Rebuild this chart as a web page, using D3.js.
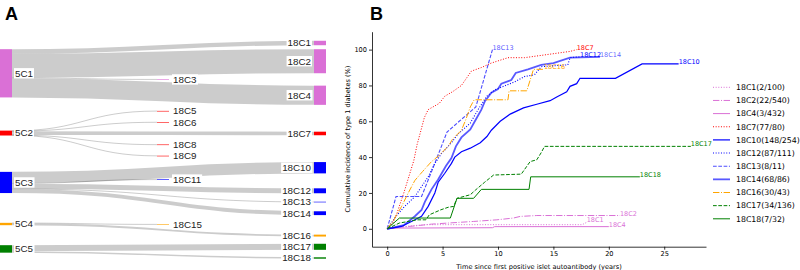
<!DOCTYPE html>
<html>
<head>
<meta charset="utf-8">
<script src="https://cdn.jsdelivr.net/npm/d3@7"></script>
<style>
  body { margin: 0; background: #fff; }
  svg { display: block; }
</style>
</head>
<body>
<svg id="chart" width="800" height="270"></svg>
<script>
// ---------- panel A data (clusters at 5 and 18 months) ----------
const sourceNames = ["5C1", "5C2", "5C3", "5C4", "5C5"];
const targetNames = ["18C1","18C2","18C3","18C4","18C5","18C6","18C7","18C8","18C9",
  "18C10","18C11","18C12","18C13","18C14","18C15","18C16","18C17","18C18"];
const targetSource = ["5C1","5C1","5C1","5C1","5C2","5C2","5C2","5C2","5C2",
  "5C3","5C3","5C3","5C3","5C3","5C4","5C4","5C5","5C5"];
const targetSize = [100, 540, 12, 432, 8, 8, 80, 8, 6, 254, 14, 111, 11, 86, 10, 43, 136, 32];
const middleTargets = ["18C3","18C5","18C6","18C8","18C9","18C11","18C15"];

// ---------- panel B data (cumulative incidence, [years, %]) ----------
const curveNames = ["18C1","18C2","18C4","18C7","18C10","18C12","18C13","18C14","18C16","18C17","18C18"];
const curveCounts = ["2/100","22/540","3/432","77/80","148/254","87/111","8/11","68/86","30/43","34/136","7/32"];
const curve18C1 = [[0,0],[1,1],[3.5,2.3],[17.6,2.3],[18,3.6]];
const curve18C2 = [[0,0],[1,0.8],[2.5,1.6],[4,2.6],[5.5,3.2],[7.8,4.1],[9.9,5],[11.4,6],[12,6.9],[13.5,7.4],[21,7.4]];
const curve18C4 = [[0,0],[1,0.4],[9.5,0.6],[9.7,1.2],[20,1.2]];
const curve18C7 = [[0,0],[0.5,3],[0.9,9],[1.5,20],[2.0,30],[2.4,38],[2.7,47],[3.05,55],[3.35,62],[3.7,66.5],
  [4.7,70],[5.2,74],[5.9,76.5],[6.7,80],[7.6,88],[8.5,90],[9.4,92.5],[10.9,95.5],[12.4,95.5],[16.5,99],[17.1,100]];
const curve18C10 = [[0,0],[1.3,1.3],[2.5,5],[3.1,7],[3.7,12.5],[4.3,20],[4.6,26],[5.2,31],[5.8,36.5],[6.1,40],
  [6.7,43],[7.5,45],[8.4,48],[9.0,51.5],[9.4,55],[10.2,60],[11.1,64],[12.3,67.5],[13.5,69.5],[14.7,71.5],
  [15.3,73.5],[16.2,76.5],[16.5,79.5],[17.1,81],[17.4,84],[20.6,84],[23,92],[26.3,92]];
const curve18C12 = [[0,0],[0.8,7],[1.5,12],[2.5,18],[3.1,23.5],[3.7,29],[4.3,36.5],[4.9,42],[5.8,48],[6.4,53],
  [7.5,59],[8.2,66.5],[9.0,74],[9.7,77.5],[10.5,79.5],[11.5,82],[12.4,85],[13.3,86],[13.9,90.5],[16.3,91.5],
  [16.5,95.5],[17.4,96]];
const curve18C13 = [[0,0],[0.4,9],[0.8,18],[3.1,18],[4.2,35],[5.4,54],[6.5,60],[8.0,68],[9.5,100]];
const curve18C14 = [[0,0],[1.5,2],[2.5,7],[3.1,10.5],[3.4,15],[4,22],[4.6,27.5],[5.3,35],[5.8,39.5],[6.2,46],
  [6.7,51],[7.5,55.5],[8,61],[8.5,66.5],[8.8,71],[9.4,76],[10,78],[10.3,81],[11.2,83],[11.6,87],[12.7,89],
  [13.9,91.5],[15,92.5],[16.5,95.5],[19.2,96]];
const curve18C16 = [[0,0],[0.6,5],[1.3,12.5],[1.9,20],[2.5,27],[3.2,32],[4,37.5],[4.7,41],[5.5,46],[5.9,50],
  [6.7,55],[7.1,61],[7.5,68],[7.85,72],[10.9,72],[11.0,77],[12.6,77],[13.2,89],[14.15,89]];
const curve18C17 = [[0,0],[1.1,3.2],[2.7,5],[3.5,5],[3.8,7.8],[4.8,10.5],[5.5,12],[6.0,12.5],[6.3,17],[7.5,19],
  [8.0,21.8],[8.8,26],[9.6,30],[12.1,30.5],[12.9,37.5],[13.5,38.5],[13.9,42.5],[14.2,46],[27.4,46]];
const curve18C18 = [[0,0],[1.1,6],[5.7,6],[6.3,17],[7.8,17],[8.5,22],[12.8,22],[12.95,29],[22.8,29]];
const curvePoints = [curve18C1, curve18C2, curve18C4, curve18C7, curve18C10, curve18C12,
  curve18C13, curve18C14, curve18C16, curve18C17, curve18C18];
const xTicks = [0, 5, 10, 15, 20, 25];
const yTicks = [0, 20, 40, 60, 80, 100];

// ---------- styles ----------
const clusterColor = {"5C1": "orchid", "5C2": "red", "5C3": "blue", "5C4": "orange", "5C5": "green"};
const DOT = "1,1.65", DASH = "3.7,1.6", DASHDOT = "6.4,1.6,1,1.6";
const curveStyle = {
  "18C1": {dash: DOT, w: 1, op: 1},
  "18C2": {dash: DASHDOT, w: 1, op: 1},
  "18C4": {dash: null, w: 1, op: 1},
  "18C7": {dash: DOT, w: 1, op: 1},
  "18C10": {dash: null, w: 1.2, op: 1},
  "18C12": {dash: DOT, w: 1.1, op: 1},
  "18C13": {dash: DASH, w: 1.1, op: 0.7},
  "18C14": {dash: null, w: 1.8, op: 0.65},
  "18C16": {dash: DASHDOT, w: 1, op: 1},
  "18C17": {dash: DASH, w: 1, op: 1},
  "18C18": {dash: null, w: 1, op: 1}
};

const svg = d3.select("#chart");

// ================= panel A : sankey =================
const panelA = svg.append("g");
const hScale = d3.scaleLinear().domain([0, 1000]).range([0, 44.5]);
const xCol = d3.scaleLinear().domain([0, 2]).range([0, 314]);
const nodeW = 12;
const sankeyTop = 38, sankeyBottom = 263, slotMin = 10, sourcePad = 20;

const targets = targetNames.map((name, i) => ({
  name, size: targetSize[i], parent: targetSource[i],
  col: middleTargets.includes(name) ? 1 : 2
}));
const sources = sourceNames.map(name => ({
  name, col: 0, parent: name,
  size: d3.sum(targets.filter(t => t.parent === name), t => t.size)
}));

// stack all 18-month clusters in order, each taking at least a label's height
const slots = targets.map(t => Math.max(hScale(t.size), slotMin));
const gap = (sankeyBottom - sankeyTop - d3.sum(slots)) / (targets.length - 1);
let yy = sankeyTop;
targets.forEach((t, i) => {
  t.h = hScale(t.size);
  t.cy = yy + slots[i] / 2;
  t.y0 = t.cy - t.h / 2;
  t.y1 = t.cy + t.h / 2;
  yy += slots[i] + gap;
});
// 5-month clusters sit at the weighted centre of their children
sources.forEach(s => {
  const kids = targets.filter(t => t.parent === s.name);
  s.h = hScale(s.size);
  s.cy = d3.sum(kids, t => t.size * t.cy) / s.size;
});
// then push overlapping ones upward, keeping some room between them
for (let i = sources.length - 2; i >= 0; i--) {
  const a = sources[i], b = sources[i + 1];
  const maxCy = (b.cy - b.h / 2) - sourcePad - a.h / 2;
  if (a.cy > maxCy) a.cy = maxCy;
}
sources.forEach(s => { s.y0 = s.cy - s.h / 2; s.y1 = s.cy + s.h / 2; });
[...targets, ...sources].forEach(n => { n.x0 = xCol(n.col); n.x1 = n.x0 + nodeW; });

// links
const links = [];
sources.forEach(s => {
  let off = s.y0;
  targets.filter(t => t.parent === s.name).forEach(t => {
    const w = hScale(t.size);
    links.push({s, t, w, sy: off + w / 2, ty: t.cy});
    off += w;
  });
});
const linkGen = d3.linkHorizontal().x(d => d[0]).y(d => d[1]);
panelA.append("g").selectAll("path")
  .data(links)
  .join("path")
  .attr("d", d => linkGen({source: [d.s.x1, d.sy], target: [d.t.x0, d.ty]}))
  .attr("fill", "none")
  .attr("stroke", "rgba(0,0,0,0.2)")
  .attr("stroke-width", d => Math.max(d.w, 1));

const allNodes = [...sources, ...targets];
panelA.append("g").selectAll("rect")
  .data(allNodes)
  .join("rect")
  .attr("x", d => d.x0)
  .attr("y", d => d.y0)
  .attr("width", d => d.x1 - d.x0)
  .attr("height", d => Math.max(d.h, 0.6))
  .attr("fill", d => clusterColor[d.parent]);

const labG = panelA.append("g")
  .style("font-family", "'Liberation Sans', Arial, sans-serif")
  .style("font-size", "9.8px");
allNodes.forEach(n => {
  const g = labG.append("g");
  const txt = g.append("text")
    .attr("x", n.col === 2 ? n.x0 - 3 : n.x1 + (n.col === 0 ? 3 : 4))
    .attr("y", n.cy)
    .attr("dy", "0.35em")
    .attr("text-anchor", n.col === 2 ? "end" : "start")
    .attr("fill", "#222")
    .text(n.name);
  const bb = txt.node().getBBox();
  g.insert("rect", "text")
    .attr("x", bb.x - 1).attr("y", n.cy - 5.2)
    .attr("width", bb.width + 2).attr("height", 10.4)
    .attr("fill", "#fff");
});

// ================= panel B : cumulative incidence =================
const x = d3.scaleLinear().domain([-1.37, 28.77]).range([372, 706]);
const y = d3.scaleLinear().domain([-10, 110]).range([246.7, 31.7]);
const panelB = svg.append("g");

const xAxis = panelB.append("g")
  .attr("transform", `translate(0,${y(-10)})`)
  .call(d3.axisBottom(x).tickValues(xTicks).tickSize(3).tickSizeOuter(0).tickPadding(2));
const yAxis = panelB.append("g")
  .attr("transform", `translate(${x(-1.37)},0)`)
  .call(d3.axisLeft(y).tickValues(yTicks).tickSize(3).tickSizeOuter(0).tickPadding(2));
[xAxis, yAxis].forEach(a => {
  a.selectAll("path, line").attr("stroke", "#000").attr("stroke-width", 0.8);
  a.selectAll("text").attr("fill", "#000")
    .style("font-family", "'DejaVu Sans', sans-serif").style("font-size", "6.6px");
});

panelB.append("text")
  .attr("transform", "translate(350,139) rotate(-90)")
  .attr("text-anchor", "middle")
  .style("font-family", "'DejaVu Sans', sans-serif").style("font-size", "6.6px")
  .text("Cumulative incidence of type 1 diabetes (%)");
panelB.append("text")
  .attr("x", 539).attr("y", 268.5)
  .attr("text-anchor", "middle")
  .style("font-family", "'DejaVu Sans', sans-serif").style("font-size", "6.6px")
  .text("Time since first positive islet autoantibody (years)");

const line = d3.line().x(d => x(d[0])).y(d => y(d[1]));
const curveColor = name => clusterColor[targetSource[targetNames.indexOf(name)]];

panelB.append("g").selectAll("path")
  .data(curveNames)
  .join("path")
  .attr("d", (d, i) => line(curvePoints[i]))
  .attr("fill", "none")
  .attr("stroke", d => curveColor(d))
  .attr("stroke-width", d => curveStyle[d].w)
  .attr("stroke-opacity", d => curveStyle[d].op)
  .attr("stroke-dasharray", d => curveStyle[d].dash);

panelB.append("g").selectAll("text")
  .data(curveNames)
  .join("text")
  .attr("x", (d, i) => x(curvePoints[i][curvePoints[i].length - 1][0]))
  .attr("y", (d, i) => y(curvePoints[i][curvePoints[i].length - 1][1]))
  .attr("fill", d => curveColor(d))
  .attr("fill-opacity", d => curveStyle[d].op)
  .style("font-family", "'DejaVu Sans', sans-serif").style("font-size", "6.5px")
  .text(d => d);

// legend
const legend = panelB.append("g").selectAll("g")
  .data(curveNames)
  .join("g")
  .attr("transform", (d, i) => `translate(713,${87.3 + i * 13.15})`);
legend.append("line")
  .attr("x1", 0).attr("x2", 17)
  .attr("stroke", d => curveColor(d))
  .attr("stroke-width", d => curveStyle[d].w)
  .attr("stroke-opacity", d => curveStyle[d].op)
  .attr("stroke-dasharray", d => curveStyle[d].dash);
legend.append("text")
  .attr("x", 23).attr("dy", "0.36em")
  .style("font-family", "'DejaVu Sans', sans-serif").style("font-size", "7.8px")
  .attr("fill", "#000")
  .text((d, i) => `${d}(${curveCounts[i]})`);

// panel letters
svg.append("text").attr("x", 5).attr("y", 20)
  .style("font-family", "'Liberation Sans', Arial, sans-serif")
  .style("font-size", "18px").style("font-weight", "bold").text("A");
svg.append("text").attr("x", 370).attr("y", 20)
  .style("font-family", "'Liberation Sans', Arial, sans-serif")
  .style("font-size", "18px").style("font-weight", "bold").text("B");
</script>
</body>
</html>
